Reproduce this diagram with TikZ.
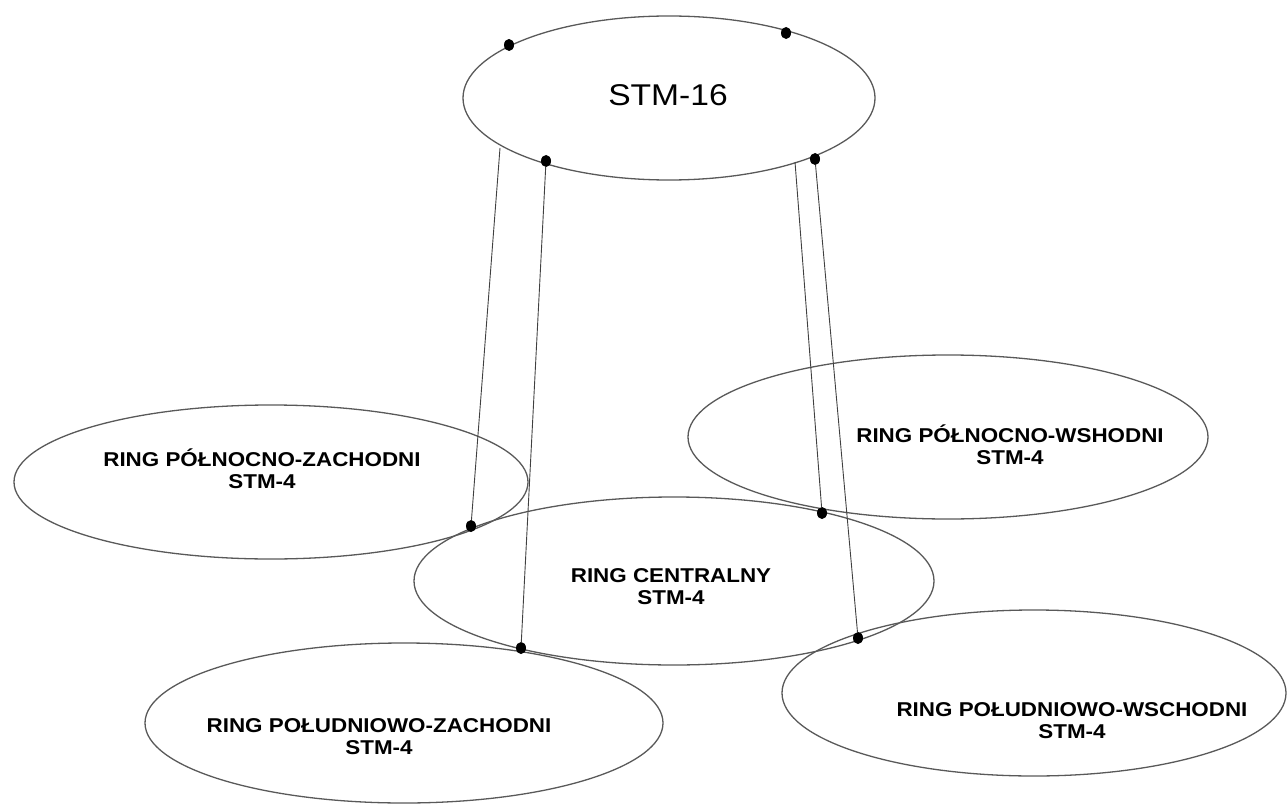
\documentclass[tikz,border=0pt]{standalone}
\usepackage{fontspec}
\setmainfont{Liberation Sans}
\newfontfamily\ringfont[FakeStretch=1.12]{Liberation Sans}
\usetikzlibrary{shapes.geometric}

\begin{document}
\begin{tikzpicture}[
x=1pt, y=-1pt,
ring/.style={draw=black!65, line width=1.3pt, ellipse, inner sep=0pt},
link/.style={draw=black!75, line width=0.9pt},
port/.style={ellipse, fill=black, inner sep=0pt, minimum width=10pt, minimum height=12pt},
rname/.style={font=\ringfont\bfseries\fontsize{20}{22}\selectfont, align=center, inner sep=0pt},
top/.style={font=\ringfont\fontsize{30}{36}\selectfont, inner sep=0pt}
]

\useasboundingbox (0,0) rectangle (1287,805);

%%% Rings
\foreach \n/\x/\y/\rx/\ry in {
	stm/669/98/206/82,
	nw/271/482/257/77,
	ne/948/437/260/82,
	cen/674/581/260/84,
	sw/404/723/259/80,
	se/1034/693/252/83
	}{
	\node[ring, minimum width=2*\rx pt, minimum height=2*\ry pt] (\n) at (\x,\y) {};
}

%%% Ring names
\node[top] (stmtxt) at (668,95) {STM-16};
\node[rname] (nwtxt) at (262,469) {RING PÓŁNOCNO-ZACHODNI\\STM-4};
\node[rname] (netxt) at (1010,445) {RING PÓŁNOCNO-WSHODNI\\STM-4};
\node[rname] (centxt) at (671,587) {RING CENTRALNY\\STM-4};
\node[rname] (swtxt) at (379,737) {RING POŁUDNIOWO-ZACHODNI\\STM-4};
\node[rname] (setxt) at (1072,721) {RING POŁUDNIOWO-WSCHODNI\\STM-4};

%%% Ports
\foreach \p/\x/\y in {
	a/509/45, b/786/33, c/546/161, d/815/159,
	p/471/526, q/822/513, r/521/648, s/858/638
	}{
	\node[port] (\p) at (\x,\y) {};
}
\coordinate (u) at (500,148);
\coordinate (v) at (795,162);

%%% Links
\draw[link] (u) -- (p);
\draw[link] (c) -- (r);
\draw[link] (v) -- (q);
\draw[link] (d) -- (s);

\end{tikzpicture}
\end{document}
